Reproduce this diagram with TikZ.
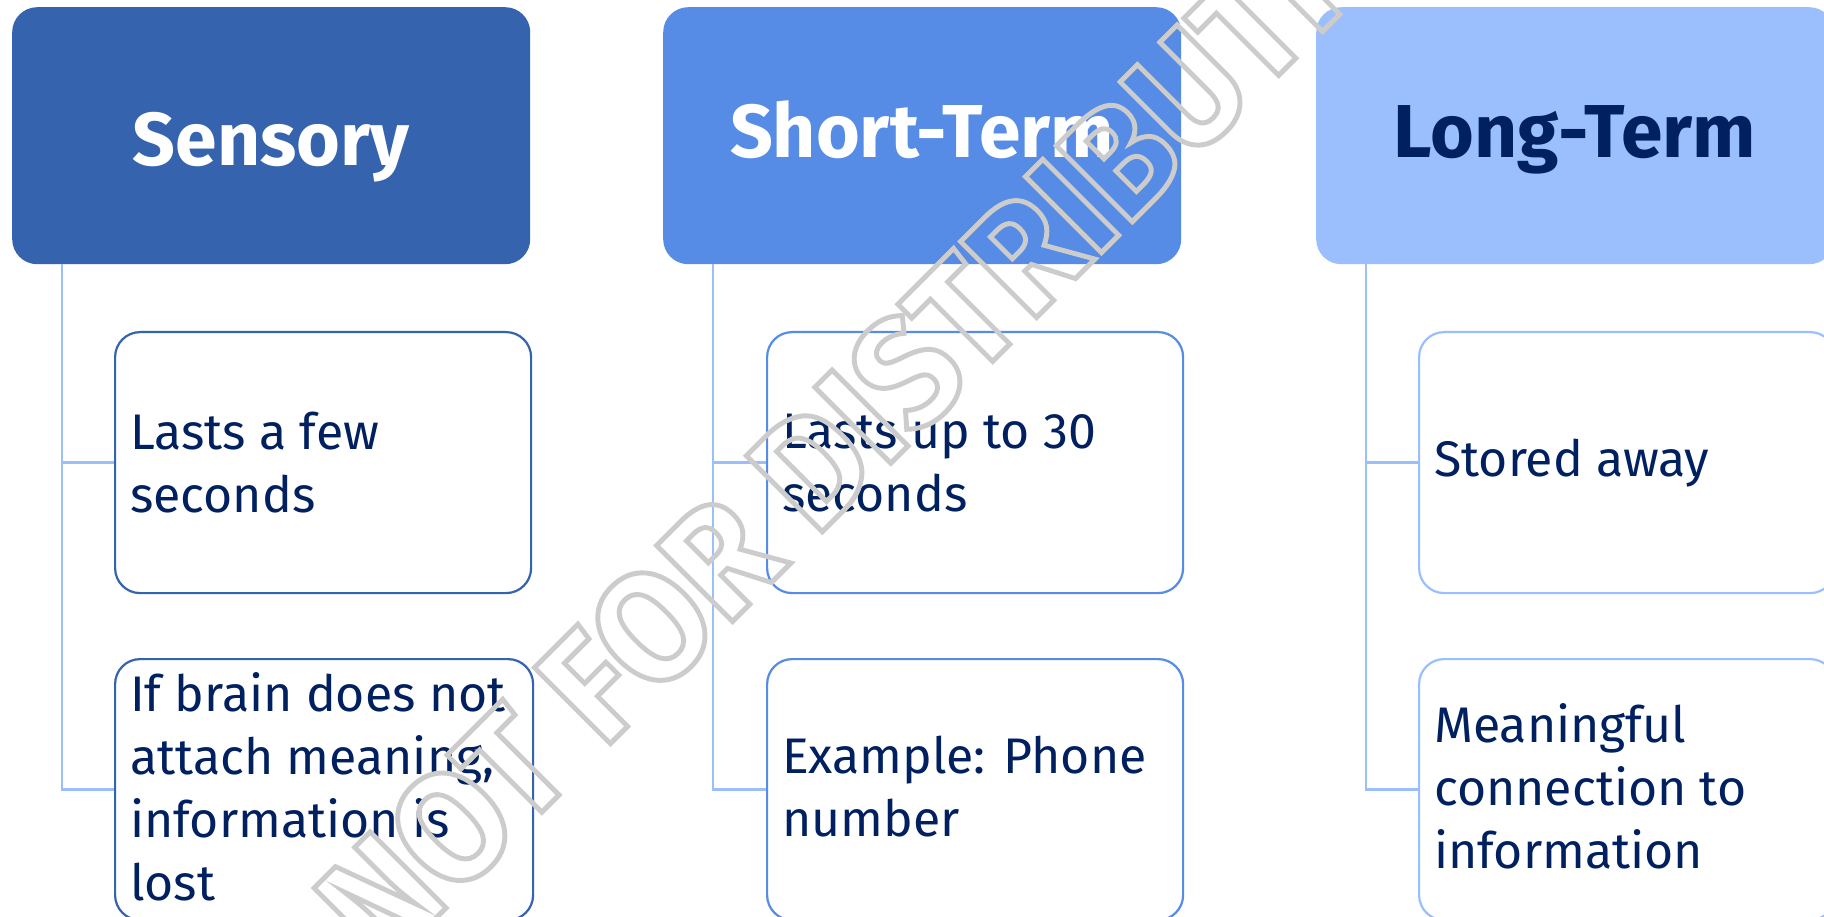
\documentclass[tikz,border=0pt]{standalone}
\usepackage{fontspec}
\setmainfont{Fira Sans}
\definecolor{cA}{HTML}{3563AE}
\definecolor{cB}{HTML}{568CE6}
\definecolor{cC}{HTML}{9BBFFD}
\definecolor{navy}{HTML}{002060}
\definecolor{wmgray}{HTML}{C8C8C8}
\tikzset{
  headbox/.style={rounded corners=25pt, inner sep=0pt, minimum width=518pt, minimum height=257pt, anchor=north west},
  headtext/.style={anchor=base, inner sep=0pt, font=\fontsize{75}{75}\selectfont\bfseries},
  itembox/.style={rounded corners=25pt, line width=2.2pt, fill=white, inner sep=0pt, minimum width=416pt, minimum height=261pt, anchor=north west},
  itemtext/.style={anchor=west, align=left, inner sep=0pt, text=navy, font=\fontsize{50}{63}\selectfont},
  conn/.style={draw=cC, line width=2.6pt},
  wm/.style={rotate=45, anchor=base west, inner sep=0pt, text=wmgray, font=\fontsize{155}{155}\selectfont\bfseries}
}
\begin{document}
\begin{tikzpicture}[x=1pt,y=1pt]
\useasboundingbox (0,0) rectangle (1824,-917);
\clip (0,0) rectangle (1824,-917);
\fill[white] (0,0) rectangle (1824,-917);

% column 1
\node[headbox, fill=cA] (h1) at (12,-7) {};
\node[headtext, text=white] (th1) at (271,-166) {Sensory};
\node[itembox, draw=cA] (a1) at (114,-331) {};
\node[itembox, draw=cA, minimum width=418pt] (a2) at (114,-658) {};
\draw[conn] ([xshift=50pt]h1.south west) |- (a1.west);
\draw[conn] ([xshift=50pt]h1.south west) |- (a2.west);
\node[itemtext] (ta1) at ([xshift=16pt]a1.west) {Lasts a few\\seconds};
\node[itemtext] (ta2) at ([xshift=16pt,yshift=3pt]a2.west) {If brain does not\\attach meaning,\\information is\\lost};

% column 2
\node[headbox, fill=cB] (h2) at (663,-7) {};
\node[headtext, text=white] (th2) at (922,-158) {Short-Term};
\node[itembox, draw=cB] (b1) at (766,-331) {};
\node[itembox, draw=cB] (b2) at (766,-658) {};
\draw[conn] ([xshift=50pt]h2.south west) |- (b1.west);
\draw[conn] ([xshift=50pt]h2.south west) |- (b2.west);
\node[itemtext] (tb1) at ([xshift=16pt]b1.west) {Lasts up to 30\\seconds};
\node[itemtext] (tb2) at ([xshift=16pt,yshift=3pt]b2.west) {Example: Phone\\number};

% column 3
\node[headbox, fill=cC] (h3) at (1316,-7) {};
\node[headtext, text=navy] (th3) at (1575,-158) {Long-Term};
\node[itembox, draw=cC] (c1) at (1418,-331) {};
\node[itembox, draw=cC] (c2) at (1418,-658) {};
\draw[conn] ([xshift=50pt]h3.south west) |- (c1.west);
\draw[conn] ([xshift=50pt]h3.south west) |- (c2.west);
\node[itemtext] (tc1) at ([xshift=16pt]c1.west) {Stored away};
\node[itemtext] (tc2) at ([xshift=16pt,yshift=3pt]c2.west) {Meaningful\\connection to\\information};

% watermark
\node[wm] (wmark) at (383,-971) {\scalebox{0.96}[1]{\special{pdf:literal direct 1 Tr 5 w 0.8 G}NOT FOR DISTRIBUTION}};
\end{tikzpicture}
\end{document}
